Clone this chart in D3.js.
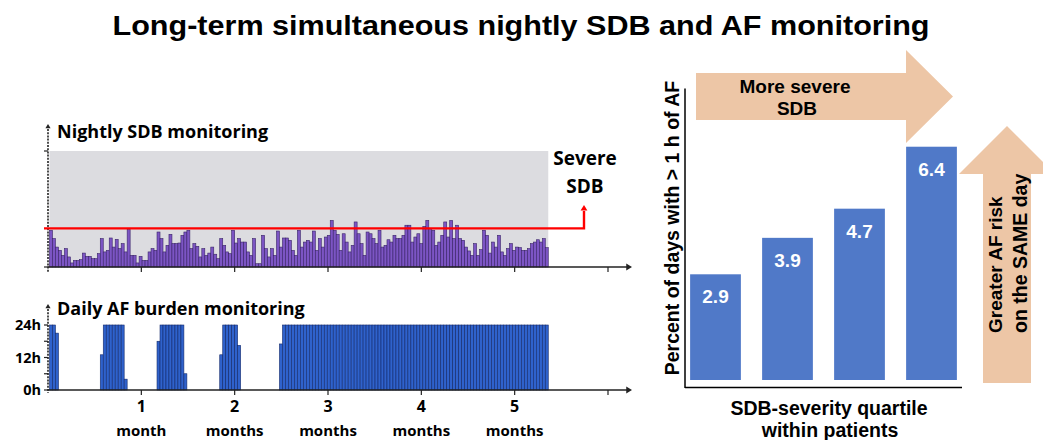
<!DOCTYPE html>
<html>
<head>
<meta charset="utf-8">
<script src="https://cdn.jsdelivr.net/npm/d3@7"></script>
<style>
  html, body { margin: 0; padding: 0; background: #fff; }
  svg { display: block; }
  .lf { font-family: "Open Sans", Lato, sans-serif; font-weight: 700; fill: #000; }
  .af { font-family: "Liberation Sans", Arial, sans-serif; font-weight: 700; }
</style>
</head>
<body>
<svg id="chart" width="1043" height="440"></svg>
<script>
// ---------- DATA ----------
const title = "Long-term simultaneous nightly SDB and AF monitoring";

// nightly SDB severity (arbitrary index units), one value per night
const sdbValues = [19,14.7,10.3,8.6,6,9.5,5.2,2.1,3.4,3.4,
  3.8,7.2,5.5,5.5,4.3,4.3,6.9,14.7,7.8,8.6,
  15,10.3,14.3,9.5,12.1,7.8,19.3,6,6,2.1,
  5.5,3.4,3.4,7.8,9.5,8.6,18.1,14.7,7.8,11.2,
  16.9,12.1,12.1,12.4,16.4,18.1,19,9.5,12.1,10.7,
  5.2,9.5,6,7.2,10.3,6.6,4.3,14.7,11.2,7.8,
  6.9,19,12.4,14.7,12.9,12.9,7.8,6,14.7,1.7,
  1.7,16.4,9.5,5.2,9.5,6,18.6,10.3,15,15,
  13.8,8.6,6,19,10.3,12.9,13.8,12.9,18.6,8.6,
  14.7,10.3,15.5,16.4,24.1,19,16.9,
  8.6,17.2,12.9,7.8,11.2,23.3,17.2,12.1,6,18.1,
  17.2,14.7,12.1,19,10.3,11.2,14.1,12.9,16.4,14.7,
  14.7,16.4,21.6,21.6,12.9,15.5,17.2,12.1,21,24.1,
  19.8,19,11.2,12.9,16.4,23.3,15.5,24.1,14.7,21.6,
  14.7,13.8,10.3,8.3,6,12.1,6,9,19,16.4,
  7.2,12.9,10.3,16.4,7.8,6,9.5,12.1,8.6,10.3,
  10,8.6,8.6,9.5,12.1,12.9,14.1,12.9,14.7,10];
const sdbMax = 60;            // top of the grey band
const severeThreshold = 20;   // "Severe SDB" line

// daily AF burden (hours), one value per day
const afHours = [24,24,21,0,0,0,0,0,0,0,
  0,0,0,0,0,0,0,13,24,24,
  24,24,24,24,24,4,0,0,0,0,
  0,0,0,0,0,0,18,24,24,24,
  24,24,24,24,24,6,0,0,0,0,
  0,0,0,0,0,0,0,13,24,24,
  24,24,24,16.5,0,0,0,0,0,0,
  0,0,0,0,0,0,0,17,24,24,
  24,24,24,24,24,24,24,24,24,24,
  24,24,24,24,24,24,24,24,24,24,
  24,24,24,24,24,24,24,24,24,24,
  24,24,24,24,24,24,24,24,24,24,
  24,24,24,24,24,24,24,24,24,24,
  24,24,24,24,24,24,24,24,24,24,
  24,24,24,24,24,24,24,24,24,24,
  24,24,24,24,24,24,24,24,24,24,
  24,24,24,24,24,24,24];
const afTicks = [0, 12, 24];
const afTickLabels = ["0h", "12h", "24h"];

const monthTicks = [1, 2, 3, 4, 5];
const monthNames = ["month", "months", "months", "months", "months"];
const monitoringMonths = 5.36;

// right panel
const quartiles = ["Q1", "Q2", "Q3", "Q4"];
const pctDaysAF = [2.9, 3.9, 4.7, 6.4];

// ---------- DRAW ----------
const svg = d3.select("#chart");

svg.append("text").attr("class", "af")
  .attr("x", 521).attr("y", 35).attr("text-anchor", "middle")
  .attr("font-size", 27.5).attr("textLength", 817).attr("lengthAdjust", "spacingAndGlyphs")
  .text(title);

const xM = d3.scaleLinear().domain([0, 6]).range([48, 608]);
const xArrowEnd = 632;
const days = d3.scaleBand().domain(d3.range(sdbValues.length))
  .range([49.5, xM(monitoringMonths)]).paddingInner(0);

function arrowHead(g, x, y, dir, size, color) {
  const s = size;
  let p;
  if (dir === "right") p = [[x, y], [x - s * 1.6, y - s], [x - s * 1.6, y + s]];
  else p = [[x, y], [x - s, y + s * 1.6], [x + s, y + s * 1.6]];
  g.append("path").attr("d", d3.line()(p) + "Z").attr("fill", color);
}

// ---- SDB panel ----
const ySdb = d3.scaleLinear().domain([0, sdbMax]).range([267, 151]);
const gS = svg.append("g");
gS.append("rect").attr("x", days.range()[0]).attr("y", ySdb(sdbMax))
  .attr("width", days.range()[1] - days.range()[0]).attr("height", ySdb(0) - ySdb(sdbMax))
  .attr("fill", "#dcdce0");
gS.selectAll("rect.sdb").data(sdbValues).join("rect").attr("class", "sdb")
  .attr("x", (d, i) => days(i)).attr("width", days.bandwidth())
  .attr("y", d => ySdb(d)).attr("height", d => ySdb(0) - ySdb(d))
  .attr("fill", "#7c55c4").attr("stroke", "#3a2468").attr("stroke-width", 0.6);

// y-axis (dashed)
gS.append("line").attr("x1", 48).attr("x2", 48).attr("y1", 129).attr("y2", 272)
  .attr("stroke", "#222").attr("stroke-width", 1.6).attr("stroke-dasharray", "2,1.2");
arrowHead(gS, 48, 124, "up", 2.6, "#222");
[0, sdbMax].forEach(v => gS.append("line").attr("x1", 44).attr("x2", 48)
  .attr("y1", ySdb(v)).attr("y2", ySdb(v)).attr("stroke", "#222").attr("stroke-width", 1.2));
// x-axis
gS.append("line").attr("x1", 48).attr("x2", xArrowEnd - 4).attr("y1", ySdb(0)).attr("y2", ySdb(0))
  .attr("stroke", "#222").attr("stroke-width", 1.4);
arrowHead(gS, xArrowEnd, ySdb(0), "right", 3.6, "#222");
gS.selectAll("line.mt").data([1, 2, 3, 4, 5, 6]).join("line").attr("class", "mt")
  .attr("x1", d => xM(d)).attr("x2", d => xM(d)).attr("y1", ySdb(0)).attr("y2", ySdb(0) + 5)
  .attr("stroke", "#222").attr("stroke-width", 1.2);

// severe threshold line with arrow
const redX = 584;
gS.append("path")
  .attr("d", d3.line()([[44, ySdb(severeThreshold)], [redX, ySdb(severeThreshold)], [redX, 211]]))
  .attr("fill", "none").attr("stroke", "#ff0000").attr("stroke-width", 2.4);
arrowHead(gS, redX, 205, "up", 3.4, "#ff0000");

gS.append("text").attr("class", "lf").attr("x", 57).attr("y", 138).attr("font-size", 18)
  .text("Nightly SDB monitoring");
gS.append("text").attr("class", "lf").attr("x", 585).attr("y", 165).attr("font-size", 19)
  .attr("text-anchor", "middle").text("Severe");
gS.append("text").attr("class", "lf").attr("x", 585).attr("y", 193).attr("font-size", 19)
  .attr("text-anchor", "middle").text("SDB");

// ---- AF panel ----
const yAF = d3.scaleLinear().domain([0, 24]).range([390, 325]);
const gA = svg.append("g");
gA.selectAll("rect.afb").data(afHours).join("rect").attr("class", "afb")
  .attr("x", (d, i) => days(i)).attr("width", days.bandwidth())
  .attr("y", d => yAF(d)).attr("height", d => yAF(0) - yAF(d))
  .attr("fill", "#2f62cc").attr("stroke", "#142a6a").attr("stroke-width", 0.6)
  .attr("display", d => d > 0 ? null : "none");

gA.append("line").attr("x1", 48).attr("x2", 48).attr("y1", 309).attr("y2", 393)
  .attr("stroke", "#222").attr("stroke-width", 1.6).attr("stroke-dasharray", "2,1.2");
arrowHead(gA, 48, 304, "up", 2.6, "#222");
gA.selectAll("line.yt").data([0, 6, 12, 18, 24]).join("line").attr("class", "yt")
  .attr("x1", 44).attr("x2", 48).attr("y1", d => yAF(d)).attr("y2", d => yAF(d))
  .attr("stroke", "#222").attr("stroke-width", 1.2);
gA.selectAll("text.yl").data(afTicks).join("text").attr("class", "lf yl")
  .attr("x", 41).attr("y", d => yAF(d) + 5).attr("text-anchor", "end").attr("font-size", 14.5)
  .text((d, i) => afTickLabels[i]);

gA.append("line").attr("x1", 48).attr("x2", xArrowEnd - 4).attr("y1", yAF(0)).attr("y2", yAF(0))
  .attr("stroke", "#222").attr("stroke-width", 1.4);
arrowHead(gA, xArrowEnd, yAF(0), "right", 3.6, "#222");
gA.selectAll("line.mt").data([1, 2, 3, 4, 5, 6]).join("line").attr("class", "mt")
  .attr("x1", d => xM(d)).attr("x2", d => xM(d)).attr("y1", yAF(0)).attr("y2", yAF(0) + 5)
  .attr("stroke", "#222").attr("stroke-width", 1.2);
gA.selectAll("text.mn").data(monthTicks).join("text").attr("class", "lf mn")
  .attr("x", d => xM(d)).attr("y", 412).attr("text-anchor", "middle").attr("font-size", 16)
  .text(d => d);
gA.selectAll("text.mw").data(monthTicks).join("text").attr("class", "lf mw")
  .attr("x", d => xM(d)).attr("y", 435.5).attr("text-anchor", "middle").attr("font-size", 15)
  .text((d, i) => monthNames[i]);

gA.append("text").attr("class", "lf").attr("x", 57).attr("y", 315).attr("font-size", 18)
  .text("Daily AF burden monitoring");

// ---- Right bar chart ----
const peach = "#edc6a6";
const gR = svg.append("g");
// horizontal arrow
gR.append("path").attr("d", d3.line()([[696, 73], [906, 73], [906, 50], [953, 96.5], [906, 143], [906, 120], [696, 120]]) + "Z")
  .attr("fill", peach);
// vertical arrow
gR.append("path").attr("d", d3.line()([[983, 383], [983, 174], [959, 174], [1007, 126], [1055, 174], [1031, 174], [1031, 383]]) + "Z")
  .attr("fill", peach);

const xQ = d3.scaleBand().domain(quartiles).range([679.5, 967.5]).paddingInner(0.295).paddingOuter(0.1475);
const yQ = d3.scaleLinear().domain([0, 8]).range([380, 88.4]);

gR.selectAll("rect.q").data(pctDaysAF).join("rect").attr("class", "q")
  .attr("x", (d, i) => xQ(quartiles[i])).attr("width", xQ.bandwidth())
  .attr("y", d => yQ(d)).attr("height", d => yQ(0) - yQ(d))
  .attr("fill", "#5079c8");
gR.selectAll("text.ql").data(pctDaysAF).join("text").attr("class", "af ql")
  .attr("x", (d, i) => xQ(quartiles[i]) + xQ.bandwidth() / 2)
  .attr("y", d => yQ(d) + 29).attr("text-anchor", "middle")
  .attr("font-size", 19).attr("fill", "#fff").text(d => d3.format(".1f")(d));

// axes
gR.append("line").attr("x1", 685).attr("x2", 685).attr("y1", yQ(8)).attr("y2", 388)
  .attr("stroke", "#000").attr("stroke-width", 1.5);
gR.append("line").attr("x1", 685).attr("x2", 962).attr("y1", 387.5).attr("y2", 387.5)
  .attr("stroke", "#000").attr("stroke-width", 1.5);

gR.append("text").attr("class", "af").attr("font-size", 19.5).attr("text-anchor", "middle")
  .attr("transform", "translate(679,228) rotate(-90)").text("Percent of days with > 1 h of AF");
gR.append("text").attr("class", "af").attr("font-size", 19.5).attr("text-anchor", "middle")
  .attr("x", 829).attr("y", 415).text("SDB-severity quartile");
gR.append("text").attr("class", "af").attr("font-size", 19.5).attr("text-anchor", "middle")
  .attr("x", 830).attr("y", 437).text("within patients");

gR.append("text").attr("class", "af").attr("font-size", 19).attr("text-anchor", "middle")
  .attr("x", 795).attr("y", 93).text("More severe");
gR.append("text").attr("class", "af").attr("font-size", 19).attr("text-anchor", "middle")
  .attr("x", 797).attr("y", 115).text("SDB");

gR.append("text").attr("class", "af").attr("font-size", 19).attr("text-anchor", "start")
  .attr("transform", "translate(1002,333) rotate(-90)").text("Greater AF risk");
gR.append("text").attr("class", "af").attr("font-size", 19.5).attr("text-anchor", "start")
  .attr("transform", "translate(1027,333) rotate(-90)").text("on the SAME day");
</script>
</body>
</html>
